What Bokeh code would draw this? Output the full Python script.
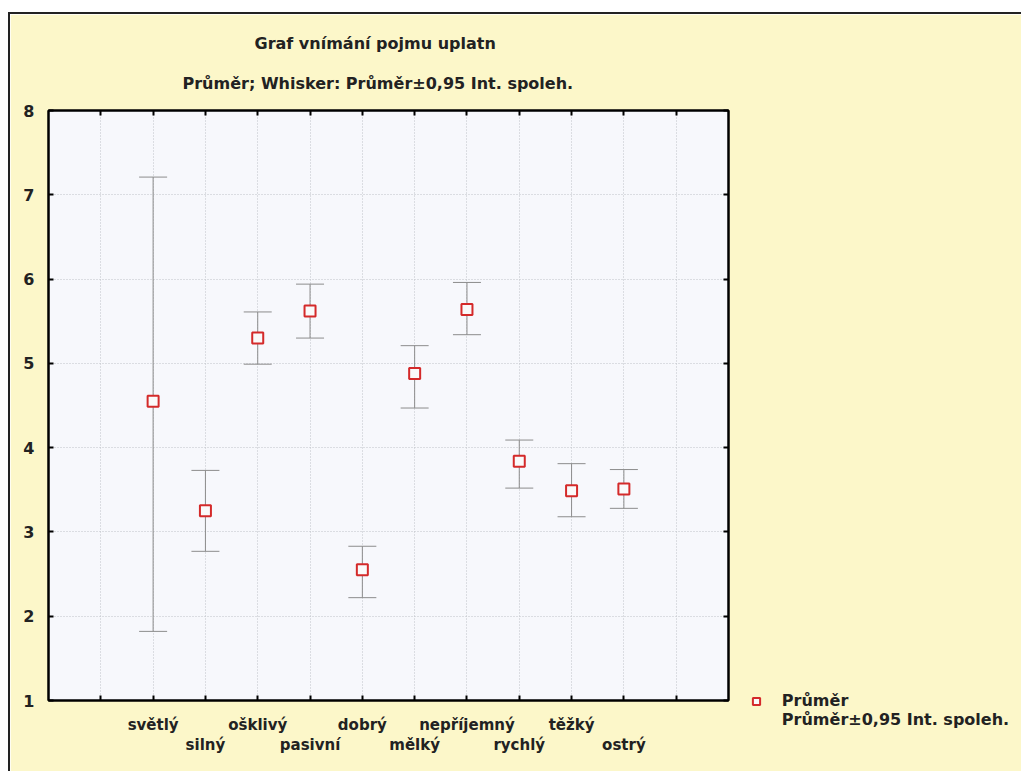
from bokeh.plotting import figure
from bokeh.models import (ColumnDataSource, FixedTicker, LinearAxis, Whisker, Title,
                          Range1d, Grid, Legend, LegendItem)
from bokeh.embed import file_html
from bokeh.resources import INLINE

categories = ["světlý", "silný", "ošklivý", "pasivní", "dobrý",
              "mělký", "nepříjemný", "rychlý", "těžký", "ostrý"]
means = [4.55, 3.25, 5.30, 5.62, 2.55, 4.88, 5.64, 3.84, 3.49, 3.51]
upper = [7.21, 3.73, 5.61, 5.94, 2.83, 5.21, 5.96, 4.09, 3.81, 3.74]
lower = [1.82, 2.77, 4.99, 5.30, 2.22, 4.47, 5.34, 3.52, 3.18, 3.28]
y_ticks = [1, 2, 3, 4, 5, 6, 7, 8]

title_text = "Graf vnímání pojmu uplatn"
subtitle_text = "Průměr; Whisker: Průměr±0,95 Int. spoleh."
legend_mean = "Průměr"
legend_ci = "Průměr±0,95 Int. spoleh."

xpos = list(range(1, len(categories) + 1))
src = ColumnDataSource(dict(x=xpos, mean=means, upper=upper, lower=lower, cat=categories))

FONT = "DejaVu Sans"
BG = "#fcf7c9"
TXT = "#222222"

p = figure(width=1005, height=757, output_backend="svg", toolbar_location=None,
           title=None,
           x_range=Range1d(-1, 12), y_range=Range1d(1, 8),
           frame_width=680, frame_height=590,
           min_border_left=38, min_border_top=96, min_border_right=287, min_border_bottom=71,
           x_axis_type=None, y_axis_type=None)
p.border_fill_color = BG
p.background_fill_color = "#f7f8fc"
p.outline_line_color = "black"
p.outline_line_width = 2
p.styles = {"margin-left": "8px", "margin-top": "12px",
            "border-left": "2px solid #222222", "border-top": "2px solid #222222"}

# bottom axis (first row of labels)
ax1 = LinearAxis(ticker=FixedTicker(ticks=list(range(0, 12))))
ax1.major_label_overrides = {i: (categories[i - 1] if (i % 2 == 1 and 1 <= i <= 10) else " ") for i in range(0, 12)}
ax1.major_tick_in = 5
ax1.major_tick_out = 0
ax1.minor_tick_line_color = None
ax1.axis_line_width = 2
ax1.major_tick_line_width = 2
ax1.major_label_standoff = 15
ax1.major_label_text_font = FONT
ax1.major_label_text_font_size = "15px"
ax1.major_label_text_font_style = "bold"
ax1.major_label_text_color = TXT
p.add_layout(ax1, "below")

ax2 = LinearAxis(ticker=FixedTicker(ticks=[2, 4, 6, 8, 10]))
ax2.major_label_overrides = {i: categories[i - 1] for i in [2, 4, 6, 8, 10]}
ax2.axis_line_color = None
ax2.major_tick_line_color = None
ax2.minor_tick_line_color = None
ax2.major_label_standoff = -7
ax2.major_label_text_font = FONT
ax2.major_label_text_font_size = "15px"
ax2.major_label_text_font_style = "bold"
ax2.major_label_text_color = TXT
p.add_layout(ax2, "below")

# top axis with inward ticks
ax_top = LinearAxis(ticker=FixedTicker(ticks=list(range(0, 12))))
ax_top.major_label_text_color = None
ax_top.major_tick_in = 5
ax_top.major_tick_out = 0
ax_top.major_tick_line_width = 2
ax_top.axis_line_width = 2
ax_top.minor_tick_line_color = None
p.add_layout(ax_top, "above")

# left axis
ay = LinearAxis(ticker=FixedTicker(ticks=y_ticks))
ay.major_tick_in = 5
ay.major_tick_out = 0
ay.major_tick_line_width = 2
ay.axis_line_width = 2
ay.minor_tick_line_color = None
ay.major_label_standoff = 14
ay.major_label_text_font = FONT
ay.major_label_text_font_size = "16px"
ay.major_label_text_font_style = "bold"
ay.major_label_text_color = TXT
p.add_layout(ay, "left")

ay_r = LinearAxis(ticker=FixedTicker(ticks=y_ticks))
ay_r.major_label_text_color = None
ay_r.major_tick_in = 5
ay_r.major_tick_out = 0
ay_r.major_tick_line_width = 2
ay_r.axis_line_width = 2
ay_r.minor_tick_line_color = None
p.add_layout(ay_r, "right")

# grid
gx = Grid(dimension=0, ticker=FixedTicker(ticks=list(range(0, 12))))
gy = Grid(dimension=1, ticker=FixedTicker(ticks=y_ticks[1:-1]))
for g in (gx, gy):
    g.grid_line_color = "#bfc2c8"
    g.grid_line_dash = "1 2"
    g.grid_line_width = 1
    p.add_layout(g)

# whiskers
w = Whisker(source=src, base="x", upper="upper", lower="lower",
            line_color="#8c8c8c", line_width=1)
w.upper_head.size = 28
w.lower_head.size = 28
w.upper_head.line_color = "#8c8c8c"
w.lower_head.line_color = "#8c8c8c"
w.upper_head.line_width = 1
w.lower_head.line_width = 1
p.add_layout(w)

r_mean = p.scatter("x", "mean", source=src, marker="square", size=11,
                   line_color="#d42a2a", line_width=2, fill_color="#fafafa")
r_ci = p.scatter(x=[], y=[], marker="square", size=1, line_alpha=0, fill_alpha=0)

# titles
t_sub = Title(text=subtitle_text, align="left", offset=134, standoff=36,
              text_font=FONT, text_font_size="16px", text_font_style="bold", text_color=TXT)
t_main = Title(text=title_text, align="left", offset=206, standoff=1,
               text_font=FONT, text_font_size="16px", text_font_style="bold", text_color=TXT)
p.add_layout(t_sub, "above")
p.add_layout(t_main, "above")

# legend
leg = Legend(items=[LegendItem(label=legend_mean, renderers=[r_mean]),
                    LegendItem(label=legend_ci, renderers=[r_ci])],
             location=(-223, -29), orientation="vertical",
             padding=0, margin=0, spacing=0, glyph_width=20, glyph_height=18,
             label_height=18, label_standoff=16,
             label_text_font=FONT, label_text_font_size="16px", label_text_font_style="bold",
             label_text_color=TXT, border_line_color=None, background_fill_alpha=0)
p.add_layout(leg, "right")

open("out.html", "w").write(file_html(p, INLINE))
